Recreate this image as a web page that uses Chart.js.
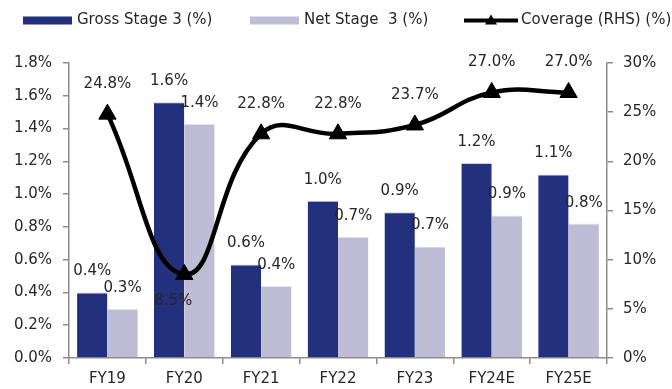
<!DOCTYPE html>
<html><head><meta charset="utf-8">
<script src="https://cdn.jsdelivr.net/npm/chart.js@4/dist/chart.umd.min.js"></script>
<style>html,body{margin:0;padding:0;background:#fff}#wrap{width:672px;height:389px;position:relative}</style>
</head><body><div id="wrap"><canvas id="c" width="672" height="389"></canvas></div>
<script>
const categories = ['FY19','FY20','FY21','FY22','FY23','FY24E','FY25E'];
const grossStage3 = [0.40, 1.56, 0.57, 0.96, 0.89, 1.19, 1.12];
const netStage3 = [0.30, 1.43, 0.44, 0.74, 0.68, 0.87, 0.82];
const coverage = [24.8, 8.5, 22.8, 22.8, 23.7, 27.0, 27.0];
const seriesNames = ['Gross Stage 3 (%)', 'Net Stage  3 (%)', 'Coverage (RHS) (%)'];

const FONT = "'DejaVu Sans', sans-serif";
const TXT = '#262626';
const NAVY = '#22307e';
const LAV = '#bfbdd5';
const AXIS = '#8c8c8c';

const legendPlugin = {
  id: 'customLegend',
  afterDraw(chart) {
    const ctx = chart.ctx;
    ctx.save();
    ctx.font = '15px ' + FONT;
    ctx.textBaseline = 'middle';
    ctx.textAlign = 'left';
    const cy = 20.5;
    ctx.fillStyle = NAVY; ctx.fillRect(23, cy - 4, 49, 8);
    ctx.fillStyle = TXT; ctx.fillText(seriesNames[0], 77, cy);
    ctx.fillStyle = LAV; ctx.fillRect(250, cy - 4, 49, 8);
    ctx.fillStyle = TXT; ctx.fillText(seriesNames[1], 304, cy);
    ctx.strokeStyle = '#000'; ctx.lineWidth = 4;
    ctx.beginPath(); ctx.moveTo(464, cy); ctx.lineTo(518, cy); ctx.stroke();
    ctx.fillStyle = '#000';
    ctx.beginPath(); ctx.moveTo(491, cy - 6); ctx.lineTo(497, cy + 4); ctx.lineTo(485, cy + 4); ctx.closePath(); ctx.fill();
    ctx.fillStyle = TXT; ctx.fillText(seriesNames[2], 521, cy);
    ctx.restore();
  }
};

const labelPlugin = {
  id: 'valueLabels',
  afterDatasetsDraw(chart) {
    const ctx = chart.ctx;
    ctx.save();
    ctx.font = '15px ' + FONT;
    ctx.fillStyle = TXT;
    ctx.textAlign = 'center';
    ctx.textBaseline = 'middle';
    chart.data.datasets.forEach((ds, di) => {
      const meta = chart.getDatasetMeta(di);
      meta.data.forEach((el, i) => {
        const v = ds.data[i];
        const txt = v.toFixed(1) + '%';
        if (ds.type === 'line') {
          const prev = i > 0 ? ds.data[i - 1] : Infinity;
          const next = i < ds.data.length - 1 ? ds.data[i + 1] : Infinity;
          if (v < prev && v < next) ctx.fillText(txt, el.x - 11, el.y + 27);
          else ctx.fillText(txt, el.x, el.y - 30);
        } else {
          ctx.fillText(txt, el.x, el.y - 21);
        }
      });
    });
    ctx.restore();
  }
};

new Chart(document.getElementById('c'), {
  data: {
    labels: categories,
    datasets: [
      { type: 'line', label: seriesNames[2], data: coverage, yAxisID: 'y1', order: 0,
        borderColor: '#000', borderWidth: 4.5, tension: 0.45, fill: false,
        pointStyle: 'triangle', pointRadius: 10, pointBackgroundColor: '#000', pointBorderColor: '#000', pointBorderWidth: 1 },
      { type: 'bar', label: seriesNames[0], data: grossStage3, yAxisID: 'y', order: 1,
        backgroundColor: NAVY, borderColor: '#c9cbe0', borderWidth: { top: 1, left: 0, right: 0, bottom: 0 }, borderSkipped: false,
        barPercentage: 1.0, categoryPercentage: 0.79 },
      { type: 'bar', label: seriesNames[1], data: netStage3, yAxisID: 'y', order: 1,
        backgroundColor: LAV, borderColor: '#e6e5ef', borderWidth: { top: 1, left: 0, right: 0, bottom: 0 }, borderSkipped: false,
        barPercentage: 1.0, categoryPercentage: 0.79 }
    ]
  },
  options: {
    responsive: false, animation: false, devicePixelRatio: 1,
    layout: { padding: { top: 63, left: 0, right: 0, bottom: 0 } },
    plugins: { legend: { display: false }, tooltip: { enabled: false } },
    scales: {
      x: {
        afterFit: s => { s.height = 31; },
        grid: { display: true, drawOnChartArea: false, offset: true, color: AXIS, lineWidth: 1.5, tickLength: 6 },
        border: { color: AXIS, width: 1.5 },
        ticks: { color: TXT, font: { family: FONT, size: 15 }, padding: 6 }
      },
      y: {
        position: 'left', min: 0, max: 1.8,
        afterFit: s => { s.width = 69; },
        grid: { drawOnChartArea: false, color: AXIS, lineWidth: 1.5, tickLength: 6 },
        border: { color: AXIS, width: 1.5 },
        ticks: { stepSize: 0.2, color: TXT, font: { family: FONT, size: 15 }, padding: 11,
          callback: v => v.toFixed(1) + '%' }
      },
      y1: {
        position: 'right', min: 0, max: 30,
        afterFit: s => { s.width = 65; },
        grid: { drawOnChartArea: false, color: AXIS, lineWidth: 1.5, tickLength: 6 },
        border: { color: AXIS, width: 1.5 },
        ticks: { stepSize: 5, color: TXT, font: { family: FONT, size: 15 }, padding: 10,
          callback: v => v + '%' }
      }
    }
  },
  plugins: [legendPlugin, labelPlugin]
});
</script></body></html>
